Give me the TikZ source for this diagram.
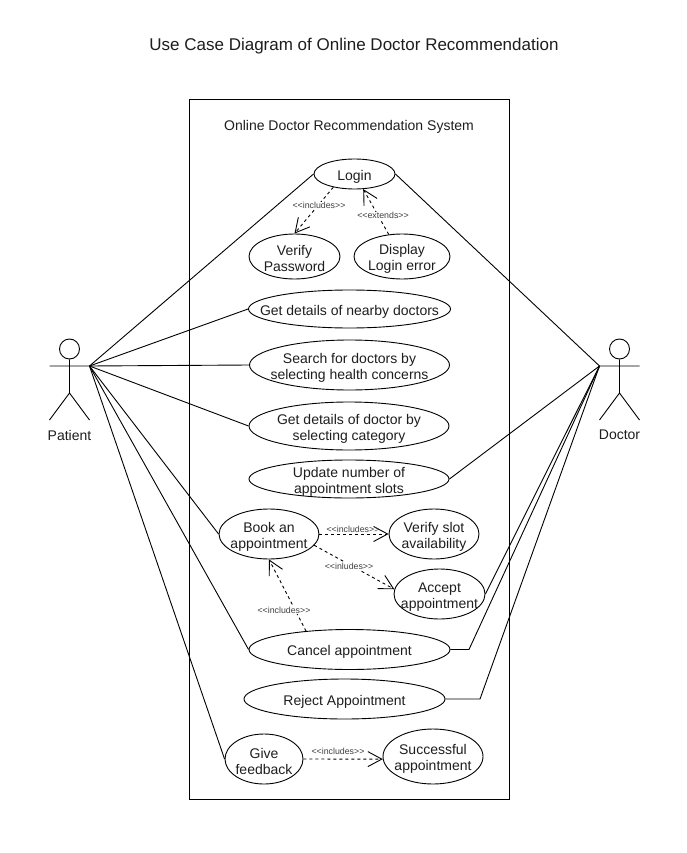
\documentclass[tikz,border=0pt]{standalone}
\usepackage{fontspec}
\setmainfont{Liberation Sans}
\usetikzlibrary{shapes.geometric,arrows.meta}
\definecolor{ink}{HTML}{1E1E1E}
\newcommand{\lowertext}{\rule{0pt}{15pt}}
\tikzset{
  usecase/.style={ellipse,draw=black,fill=white,line width=0.9pt,inner xsep=-70pt,inner ysep=-25pt,align=center,text=ink,
    font=\fontsize{14}{16}\selectfont},
  assoc/.style={draw=black,line width=0.9pt},
  dep/.style={draw=black,line width=0.9pt,dash pattern=on 3pt off 3pt,-{Straight Barb[length=14pt,width=15pt]}},
  deplabel/.style={fill=white,inner sep=0.5pt,text=ink!85,font=\fontsize{8.8}{10}\selectfont},
  caption/.style={text=ink,inner sep=0pt},
  actorline/.style={draw=black,line width=0.9pt},
}
\begin{document}
\begin{tikzpicture}[x=1pt,y=-1pt]
\useasboundingbox (0,0) rectangle (686,853);
\fill[white] (0,0) rectangle (686,853);
\node[caption,font=\fontsize{17}{20}\selectfont] (title) at (354,46) {Use Case Diagram of Online Doctor Recommendation};
\node[draw=black,line width=0.9pt,minimum width=320pt,minimum height=700pt,inner sep=0pt] (system) at (349.5,449.5) {};
\node[caption,font=\fontsize{14}{16}\selectfont] (systitle) at (349,127) {Online Doctor Recommendation System};

% actors
\node[circle,draw=black,fill=white,line width=0.9pt,minimum size=20pt,inner sep=0pt] (phead) at (69.5,349) {};
\coordinate (phip) at (69.5,393);
\coordinate (pl) at (49.5,366);
\coordinate (pr) at (89.5,366);
\coordinate (pfl) at (49.5,420);
\coordinate (pfr) at (89.5,420);
\draw[actorline] (phead.south) -- (phip) (pl) -- (pr) (pfl) -- (phip) -- (pfr);
\node[caption,font=\fontsize{14}{16}\selectfont] (patient) at (69.5,435) {Patient};

\node[circle,draw=black,fill=white,line width=0.9pt,minimum size=20pt,inner sep=0pt] (dhead) at (619.5,349) {};
\coordinate (dhip) at (619.5,393);
\coordinate (dl) at (599.5,366);
\coordinate (dr) at (639.5,366);
\coordinate (dfl) at (599.5,420);
\coordinate (dfr) at (639.5,420);
\draw[actorline] (dhead.south) -- (dhip) (dl) -- (dr) (dfl) -- (dhip) -- (dfr);
\node[caption,font=\fontsize{14}{16}\selectfont] (doctor) at (619.5,435) {Doctor};

% use cases
\node[usecase,minimum width=81pt,minimum height=30pt] (login) at (354.5,174) {\lowertext Login};
\node[usecase,minimum width=91pt,minimum height=45pt] (verify) at (294.5,256.5) {\lowertext Verify\\Password};
\node[usecase,minimum width=96pt,minimum height=45pt] (display) at (402,256.5) {\lowertext Display\\Login error};
\node[usecase,minimum width=202pt,minimum height=38pt] (nearby) at (349.5,309) {\lowertext Get details of nearby doctors};
\node[usecase,minimum width=200pt,minimum height=50pt] (search) at (349.5,365) {\lowertext Search for doctors by\\selecting health concerns};
\node[usecase,minimum width=200pt,minimum height=48pt] (category) at (349,426) {\lowertext Get details of doctor by\\selecting category};
\node[usecase,minimum width=200pt,minimum height=38pt] (update) at (349,479) {\lowertext Update number of\\appointment slots};
\node[usecase,minimum width=100pt,minimum height=50pt] (book) at (269,534) {\lowertext Book an\\appointment};
\node[usecase,minimum width=90pt,minimum height=50pt] (slot) at (434,534) {\lowertext Verify slot\\availability};
\node[usecase,minimum width=91pt,minimum height=50pt] (accept) at (439.5,594) {\lowertext Accept\\appointment};
\node[usecase,minimum width=201pt,minimum height=40pt] (cancel) at (349.5,649.5) {\lowertext Cancel appointment};
\node[usecase,minimum width=201pt,minimum height=40pt] (reject) at (344.5,699) {\lowertext Reject Appointment};
\node[usecase,minimum width=78pt,minimum height=50pt] (give) at (264,759) {\lowertext Give\\feedback};
\node[usecase,minimum width=100pt,minimum height=55pt] (success) at (433,756.5) {\lowertext Successful\\appointment};

% associations
\draw[assoc] (pr) -- (login.west);
\draw[assoc] (pr) -- (nearby.west);
\draw[assoc] (pr) -- (search.west);
\draw[assoc] (pr) -- (category.west);
\draw[assoc] (pr) -- (book.west);
\draw[assoc] (pr) -- (cancel.west);
\draw[assoc] (pr) -- (give.west);
\draw[assoc] (dl) -- (login.east);
\draw[assoc] (dl) -- (update.east);
\draw[assoc] (dl) -- (accept.east);
\coordinate (cbend) at (469,649.5);
\coordinate (rbend) at (480,699);
\draw[assoc] (dl) -- (cbend) -- (cancel.east);
\draw[assoc] (dl) -- (rbend) -- (reject.east);

% dependencies
\draw[dep] (login.212) -- (verify.north);
\draw[dep] (display.121) -- (login.300);
\draw[dep] (book.east) -- (slot.west);
\draw[dep] (book.-14) -- (accept.174);
\draw[dep] (cancel.157) -- (book.south);
\draw[dep] (give.east) -- (success.183);

\node[deplabel] (l1) at (319,205.5) {<{}<includes>{}>};
\node[deplabel] (l2) at (383,215.5) {<{}<extends>{}>};
\node[deplabel,fill=none] (l3) at (353,529) {<{}<includes>{}>};
\node[deplabel] (l4) at (349,566) {<{}<inludes>{}>};
\node[deplabel] (l5) at (284,610) {<{}<includes>{}>};
\node[deplabel] (l6) at (338,751) {<{}<includes>{}>};
\end{tikzpicture}
\end{document}
